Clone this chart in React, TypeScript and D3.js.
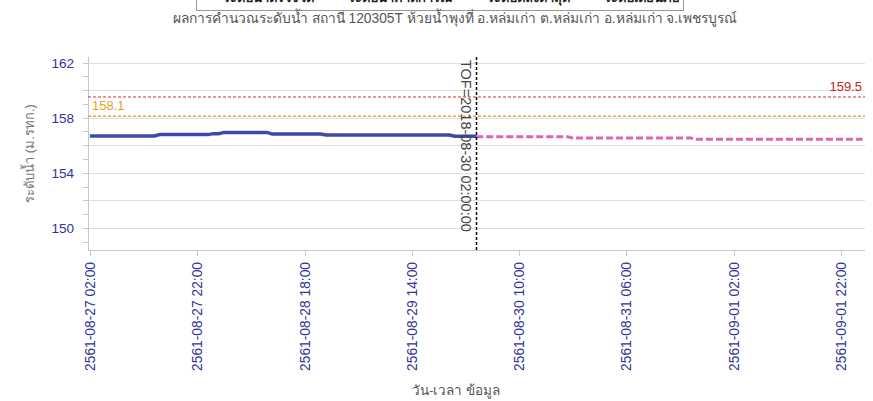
import { useEffect, useRef } from 'react';
import * as d3 from 'd3';

// Observed water level (step changes, hourly points at each change)
const observedTimes = [
    '2018-08-27 02:00', '2018-08-27 14:00', '2018-08-27 15:00', '2018-08-28 00:00',
    '2018-08-28 01:00', '2018-08-28 02:00', '2018-08-28 03:00', '2018-08-28 11:00',
    '2018-08-28 12:00', '2018-08-28 21:00', '2018-08-28 22:00', '2018-08-29 21:00',
    '2018-08-29 22:00', '2018-08-30 02:00',
];
const observedValues = [
    156.67, 156.67, 156.77, 156.77,
    156.84, 156.84, 156.93, 156.93,
    156.81, 156.81, 156.74, 156.74,
    156.65, 156.65,
];

// Forecast water level
const forecastTimes = [
    '2018-08-30 02:00', '2018-08-30 19:00', '2018-08-30 20:00',
    '2018-08-31 18:00', '2018-08-31 19:00', '2018-09-02 02:00',
];
const forecastValues = [156.62, 156.62, 156.52, 156.52, 156.44, 156.44];

const tickTimes = [
    '2018-08-27 02:00', '2018-08-27 22:00', '2018-08-28 18:00', '2018-08-29 14:00',
    '2018-08-30 10:00', '2018-08-31 06:00', '2018-09-01 02:00', '2018-09-01 22:00',
];
const yLabels = [150, 154, 158, 162];
const yGrid = [150, 152, 154, 156, 158, 160, 162];
const yMinor = [149, 150, 151, 152, 153, 154, 155, 156, 157, 158, 159, 160, 161, 162];

const bankLevel = 159.5;
const warnLevel = 158.1;
const tofTime = '2018-08-30 02:00';

const legendItems = ['ระดับน้ำตรวจวัด', 'ระดับน้ำคาดการณ์', 'ระดับตลิ่งต่ำสุด', 'ระดับเตือนภัย'];
const legendX = [268, 400, 528, 642];

const title = 'ผลการคำนวณระดับน้ำ สถานี 120305T ห้วยน้ำพุงที่ อ.หล่มเก่า ต.หล่มเก่า อ.หล่มเก่า จ.เพชรบูรณ์';

const parse = d3.timeParse('%Y-%m-%d %H:%M');
const FONT = "Tahoma, 'Liberation Sans', Arial, sans-serif";

export default function App() {
    const ref = useRef<SVGSVGElement>(null);

    useEffect(() => {
        if (!ref.current) return;
        const svg = d3.select(ref.current);
        svg.selectAll('*').remove();

        const W = 873, H = 401;
        const left = 88, right = 865, top = 57, bottom = 250;

        const t0 = parse(observedTimes[0])!;
        const t1 = parse(forecastTimes[forecastTimes.length - 1])!;
        const x = d3.scaleTime()
            .domain([d3.timeMinute.offset(t0, -21), d3.timeMinute.offset(t1, 27)])
            .range([left, right]);
        const y = d3.scaleLinear().domain([148.4, 162.4]).range([bottom, top]);

        svg.append('rect').attr('width', W).attr('height', H).attr('fill', '#fff');

        // Legend box (clipped at top like the original)
        const lg = svg.append('g');
        lg.append('rect')
            .attr('x', 196.5).attr('y', -20).attr('width', 487).attr('height', 30.5)
            .attr('fill', '#fff').attr('stroke', '#999');
        legendItems.forEach((t, i) => {
            lg.append('text')
                .attr('x', legendX[i]).attr('y', 2)
                .attr('text-anchor', 'middle')
                .attr('font-family', FONT).attr('font-size', 13).attr('font-weight', 'bold')
                .attr('fill', '#222').text(t);
        });

        // Title
        svg.append('text')
            .attr('x', 455).attr('y', 23).attr('text-anchor', 'middle')
            .attr('font-family', FONT).attr('font-size', 13.8).attr('fill', '#555')
            .text(title);

        // Gridlines
        svg.append('g').selectAll('line').data(yGrid).join('line')
            .attr('x1', left).attr('x2', right)
            .attr('y1', d => Math.round(y(d)) + 0.5).attr('y2', d => Math.round(y(d)) + 0.5)
            .attr('stroke', '#e0e0e0');

        // Y axis
        svg.append('line')
            .attr('x1', left + 0.5).attr('x2', left + 0.5).attr('y1', top).attr('y2', bottom)
            .attr('stroke', '#c8c8c8');
        svg.append('g').selectAll('line').data(yMinor).join('line')
            .attr('x1', left - 5).attr('x2', left)
            .attr('y1', d => Math.round(y(d)) + 0.5).attr('y2', d => Math.round(y(d)) + 0.5)
            .attr('stroke', '#c8c8c8');
        svg.append('g').selectAll('text').data(yLabels).join('text')
            .attr('x', 74).attr('y', d => y(d) + 5)
            .attr('text-anchor', 'end')
            .attr('font-family', FONT).attr('font-size', 13.5).attr('fill', '#333399')
            .text(d => d);
        svg.append('text')
            .attr('transform', `translate(34,${(top + bottom) / 2}) rotate(-90)`)
            .attr('text-anchor', 'middle')
            .attr('font-family', FONT).attr('font-size', 13).attr('fill', '#777')
            .text('ระดับน้ำ (ม.รทก.)');

        // X axis
        svg.append('line')
            .attr('x1', left).attr('x2', right).attr('y1', bottom + 0.5).attr('y2', bottom + 0.5)
            .attr('stroke', '#c8c8c8');
        const ticks = tickTimes.map(s => parse(s)!);
        svg.append('g').selectAll('line').data(ticks).join('line')
            .attr('x1', d => Math.round(x(d)) + 0.5).attr('x2', d => Math.round(x(d)) + 0.5)
            .attr('y1', bottom).attr('y2', bottom + 6)
            .attr('stroke', '#c8c8c8');
        const fmt = d3.timeFormat('-%m-%d %H:%M');
        svg.append('g').selectAll('text').data(ticks).join('text')
            .attr('transform', d => `translate(${x(d) + 5},262) rotate(-90)`)
            .attr('text-anchor', 'end')
            .attr('font-family', FONT).attr('font-size', 13.8).attr('fill', '#333399')
            .text(d => `${d.getFullYear() + 543}${fmt(d)}`);
        svg.append('text')
            .attr('x', 456).attr('y', 395).attr('text-anchor', 'middle')
            .attr('font-family', FONT).attr('font-size', 13.5).attr('fill', '#555')
            .text('วัน-เวลา ข้อมูล');

        // Threshold lines
        svg.append('line')
            .attr('x1', left).attr('x2', right)
            .attr('y1', y(bankLevel)).attr('y2', y(bankLevel))
            .attr('stroke', '#cc3333').attr('stroke-dasharray', '3,2');
        svg.append('text')
            .attr('x', 862).attr('y', y(bankLevel) - 6).attr('text-anchor', 'end')
            .attr('font-family', FONT).attr('font-size', 13).attr('fill', '#cc2222')
            .text(bankLevel);
        svg.append('line')
            .attr('x1', left).attr('x2', right)
            .attr('y1', y(warnLevel)).attr('y2', y(warnLevel))
            .attr('stroke', '#f0a040').attr('stroke-width', 1.5).attr('stroke-dasharray', '3,2');
        svg.append('text')
            .attr('x', 92).attr('y', y(warnLevel) - 6)
            .attr('font-family', FONT).attr('font-size', 13).attr('fill', '#e8a020')
            .text(warnLevel);

        // Series
        const line = d3.line<[Date, number]>().x(d => x(d[0])).y(d => y(d[1]));
        const obs = observedTimes.map((s, i) => [parse(s)!, observedValues[i]] as [Date, number]);
        const fc = forecastTimes.map((s, i) => [parse(s)!, forecastValues[i]] as [Date, number]);
        svg.append('path').attr('d', line(fc))
            .attr('fill', 'none').attr('stroke', '#dd66b0').attr('stroke-width', 3)
            .attr('stroke-dasharray', '7,3');
        svg.append('path').attr('d', line(obs))
            .attr('fill', 'none').attr('stroke', '#3d4aa8').attr('stroke-width', 3.5);

        // TOF marker
        const tof = parse(tofTime)!;
        const tx = Math.round(x(tof)) + 0.5;
        svg.append('line')
            .attr('x1', tx).attr('x2', tx).attr('y1', top).attr('y2', bottom)
            .attr('stroke', '#000').attr('stroke-width', 1.5).attr('stroke-dasharray', '3,2');
        svg.append('text')
            .attr('transform', `translate(${tx - 16},60) rotate(90)`)
            .attr('font-family', FONT).attr('font-size', 14.5).attr('fill', '#444')
            .text('TOF=2018-08-30 02:00:00');
    }, []);

    return (
        <div style={{ position: 'absolute', left: 0, top: 0 }}>
            <svg ref={ref} width={873} height={401} style={{ display: 'block' }} />
        </div>
    );
}
